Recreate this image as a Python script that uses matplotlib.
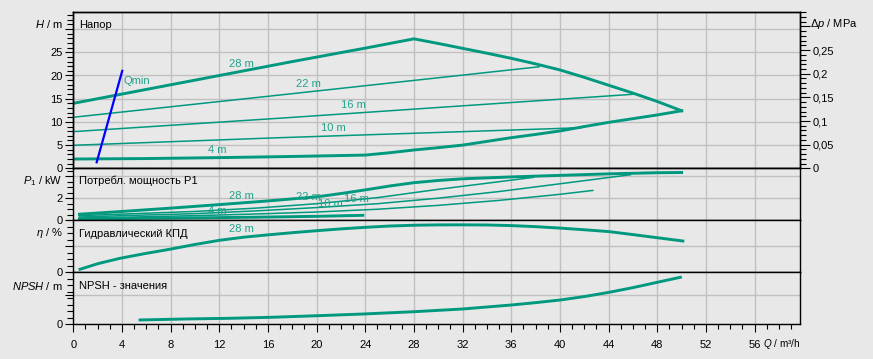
import matplotlib
matplotlib.use('Agg')
import matplotlib.pyplot as plt
from matplotlib.ticker import MultipleLocator, FixedLocator

plt.rcParams['font.family'] = ['Liberation Sans', 'DejaVu Sans']
plt.rcParams['mathtext.fontset'] = 'custom'
plt.rcParams['mathtext.rm'] = 'Liberation Sans'
plt.rcParams['mathtext.it'] = 'Liberation Sans:italic'

# --- head (H, m) ---
q_28 = [0, 6, 12, 18, 24, 28, 30, 32, 34, 36, 38, 40, 42, 44, 46, 48, 50]
h_28 = [14.0, 17.0, 20.0, 23.0, 25.9, 27.9, 26.9, 25.85, 24.8, 23.7, 22.5, 21.2, 19.6, 17.9, 16.2, 14.4, 12.4]
q_4 = [0, 6, 12, 18, 24, 26, 28, 30, 32, 34, 36, 38, 40, 42, 44, 46, 48, 50]
h_4 = [2.0, 2.1, 2.3, 2.55, 2.85, 3.35, 3.95, 4.45, 5.0, 5.8, 6.6, 7.3, 8.05, 9.0, 9.9, 10.7, 11.5, 12.4]
q_22 = [0, 17, 38.35]
h_22 = [11.0, 15.8, 21.9]
q_16 = [0, 17, 46.0]
h_16 = [7.9, 10.8, 15.95]
q_10 = [0, 17, 41.8]
h_10 = [4.96, 6.6, 8.75]
q_min = [1.92, 4.02]
h_min = [1.3, 21.0]

# --- power P1, kW ---
qp_28 = [0.5, 4, 8, 12, 16, 20, 22, 24, 26, 28, 30, 32, 36, 40, 44, 48, 50]
p_28 = [0.55, 0.8, 1.1, 1.42, 1.75, 2.12, 2.42, 2.75, 3.1, 3.4, 3.6, 3.75, 3.92, 4.06, 4.2, 4.3, 4.32]
qp_22 = [0.5, 5, 10, 15, 20, 25, 30, 34, 37.8]
p_22 = [0.42, 0.6, 0.8, 1.1, 1.5, 2.05, 2.8, 3.35, 3.88]
qp_16 = [0.5, 5, 10, 15, 20, 25, 30, 35, 40, 45.8]
p_16 = [0.3, 0.45, 0.6, 0.85, 1.15, 1.5, 2.0, 2.6, 3.3, 4.12]
qp_10 = [0.5, 5, 10, 15, 20, 25, 30, 35, 40, 42.7]
p_10 = [0.2, 0.3, 0.42, 0.57, 0.75, 1.0, 1.35, 1.8, 2.35, 2.7]
qp_4 = [0.5, 5, 10, 15, 20, 23.8]
p_4 = [0.12, 0.17, 0.22, 0.28, 0.36, 0.45]

# --- hydraulic efficiency, % ---
qe = [0.55, 2, 3.83, 6, 7.9, 10, 12, 14, 16, 18, 20, 22, 24, 26, 28, 30, 32, 34, 36, 38, 40,
      42, 44, 46, 48, 50.1]
eta = [5.8, 16.5, 26.9, 36.5, 44.2, 53.5, 61.5, 67.5, 72.0, 76.2, 80.0, 83.5, 86.5, 89.0, 90.5,
       91.2, 91.3, 91.0, 89.8, 87.8, 85.0, 81.8, 78.3, 72.5, 66.5, 60.2]

# --- NPSH, m ---
qn = [5.48, 9.18, 12.9, 16.4, 20.1, 23.8, 28.0, 32.0, 36.0, 38.0, 40.0, 42.0, 44.05, 46.0, 48.0, 49.9]
npsh = [0.75, 0.92, 1.04, 1.22, 1.49, 1.78, 2.18, 2.65, 3.34, 3.75, 4.2, 4.8, 5.54, 6.35, 7.27, 8.14]

curve_labels = ['28 m', '22 m', '16 m', '10 m', '4 m']
label_q = [13.84, 19.3, 23.0, 21.4, 11.83]
label_h = [22.5, 18.2, 13.6, 8.75, 3.9]
label_qp = [13.84, 19.3, 23.3, 21.1, 11.83]
label_p = [2.2, 2.13, 1.92, 1.47, 0.84]

TEAL = '#00997f'
LTEAL = '#1fa38a'
BG = '#e8e8e8'
GRID = '#c0c0c0'
FS = 8
W_PX, H_PX = 873, 359

fig = plt.figure(figsize=(W_PX / 100, H_PX / 100), dpi=100, facecolor=BG)

left_px, right_px = 73.33, 800
bounds = [11.7, 168.3, 220.3, 272.3, 324.3]
axes = []
for i in range(4):
    top, bot = bounds[i], bounds[i + 1]
    ax = fig.add_axes([left_px / W_PX, 1 - bot / H_PX, (right_px - left_px) / W_PX, (bot - top) / H_PX],
                      sharex=axes[0] if axes else None)
    ax.set_facecolor(BG)
    for s in ax.spines.values():
        s.set_linewidth(1.0)
    ax.xaxis.set_major_locator(MultipleLocator(4))
    ax.xaxis.set_minor_locator(MultipleLocator(1))
    ax.grid(True, which='major', color=GRID, linewidth=1.0)
    ax.set_axisbelow(True)
    ax.tick_params(axis='y', which='major', direction='out', length=5.5, width=0.8, labelsize=FS, pad=2)
    ax.tick_params(axis='y', which='minor', direction='out', length=4, width=0.8)
    if i < 3:
        ax.tick_params(axis='x', which='both', bottom=False, labelbottom=False)
    axes.append(ax)

ax1, ax2, ax3, ax4 = axes
ax1.set_xlim(0, 59.73)

# head panel
ax1.set_ylim(0, 33.75)
ax1.yaxis.set_major_locator(MultipleLocator(5))
ax1.yaxis.set_minor_locator(MultipleLocator(1))
ax1.yaxis.set_major_formatter(plt.FuncFormatter(lambda v, p: '' if v > 27 else f'{v:g}'))
for q, h in [(q_22, h_22), (q_16, h_16), (q_10, h_10)]:
    ax1.plot(q, h, color=TEAL, lw=1.1, solid_capstyle='butt')
ax1.plot(q_28, h_28, color=TEAL, lw=2.1)
ax1.plot(q_4, h_4, color=TEAL, lw=2.1)
ax1.plot(q_min, h_min, color='#0000ff', lw=1.6)
ax1.text(4.15, 18.8, 'Qmin', color=LTEAL, fontsize=FS, ha='left', va='center')
for t, q, h in zip(curve_labels, label_q, label_h):
    ax1.text(q, h, t, color=LTEAL, fontsize=FS, ha='center', va='center')
ax1.text(0.5, 30.9, 'Напор', fontsize=FS, ha='left', va='center')

# right pressure axis
axr = ax1.twinx()
axr.set_ylim(0, 33.75 * 0.00981)
axr.yaxis.set_major_locator(FixedLocator([0, 0.05, 0.1, 0.15, 0.2, 0.25, 0.3]))
axr.yaxis.set_minor_locator(MultipleLocator(0.01))
axr.yaxis.set_major_formatter(plt.FuncFormatter(
    lambda v, p: '' if v > 0.27 else f'{v:g}'.replace('.', ',')))
axr.tick_params(axis='y', which='major', direction='out', length=7, width=0.8, labelsize=FS, pad=2)
axr.tick_params(axis='y', which='minor', direction='out', length=4.5, width=0.8)
for s in axr.spines.values():
    s.set_linewidth(1.0)

# power panel
ax2.set_ylim(0, 4.7)
ax2.yaxis.set_major_locator(FixedLocator([0, 2, 4]))
ax2.yaxis.set_minor_locator(MultipleLocator(0.5))
ax2.yaxis.set_major_formatter(plt.FuncFormatter(lambda v, p: '' if v > 3 else f'{v:g}'))
for q, p_ in [(qp_22, p_22), (qp_16, p_16), (qp_10, p_10)]:
    ax2.plot(q, p_, color=TEAL, lw=1.1)
ax2.plot(qp_28, p_28, color=TEAL, lw=2.1)
ax2.plot(qp_4, p_4, color=TEAL, lw=2.1)
for t, q, p_ in zip(curve_labels, label_qp, label_p):
    ax2.text(q, p_, t, color=LTEAL, fontsize=FS, ha='center', va='center')
ax2.text(0.5, 3.6, 'Потребл. мощность Р1', fontsize=FS, ha='left', va='center')

# efficiency panel
ax3.set_ylim(0, 100)
ax3.yaxis.set_major_locator(FixedLocator([0, 50]))
ax3.yaxis.set_minor_locator(MultipleLocator(12.5))
ax3.yaxis.set_major_formatter(plt.FuncFormatter(lambda v, p: '' if v > 10 else f'{v:g}'))
ax3.plot(qe, eta, color=TEAL, lw=2.1)
ax3.text(label_q[0], 82.7, curve_labels[0], color=LTEAL, fontsize=FS, ha='center', va='center')
ax3.text(0.5, 74.5, 'Гидравлический КПД', fontsize=FS, ha='left', va='center')

# NPSH panel
ax4.set_ylim(0, 9)
ax4.yaxis.set_major_locator(FixedLocator([0, 5]))
ax4.yaxis.set_minor_locator(MultipleLocator(1.125))
ax4.yaxis.set_major_formatter(plt.FuncFormatter(lambda v, p: '' if v > 1 else f'{v:g}'))
ax4.plot(qn, npsh, color=TEAL, lw=2.1)
ax4.text(0.5, 6.7, 'NPSH - значения', fontsize=FS, ha='left', va='center')
ax4.tick_params(axis='x', which='major', direction='out', length=6, width=0.8, labelsize=FS, pad=5)
ax4.tick_params(axis='x', which='minor', direction='out', length=3.5, width=0.8)
ax4.xaxis.set_major_formatter(plt.FuncFormatter(lambda v, p: '' if v > 57 else f'{v:g}'))

# axis titles
lab_x = 62.5 / W_PX
fig.text(lab_x, 1 - 24.3 / H_PX, r'$H$ / m', fontsize=FS, ha='right', va='center')
fig.text(lab_x, 1 - 181 / H_PX, r'$P_1$ / kW', fontsize=FS, ha='right', va='center')
fig.text(lab_x, 1 - 233.3 / H_PX, r'$\eta$ / %', fontsize=FS, ha='right', va='center')
fig.text(lab_x, 1 - 285.7 / H_PX, r'$NPSH$ / m', fontsize=FS, ha='right', va='center')
fig.text(810 / W_PX, 1 - 24.3 / H_PX, r'$\Delta p$ / MPa', fontsize=FS, ha='left', va='center')
fig.text(801 / W_PX, 1 - 344 / H_PX, r'$Q$ / m³/h', fontsize=7.2, ha='right', va='center')

fig.savefig('out.png', dpi=100, facecolor=BG)
